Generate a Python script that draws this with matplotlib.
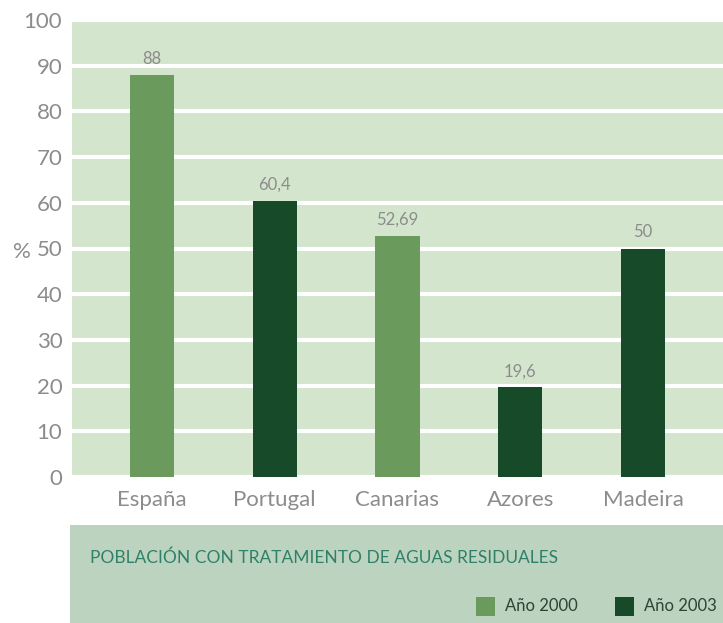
import matplotlib
matplotlib.use("Agg")
import matplotlib.pyplot as plt
from matplotlib.patches import Rectangle

regions = ["España", "Portugal", "Canarias", "Azores", "Madeira"]
values = [88, 60.4, 52.69, 19.6, 50]
value_labels = ["88", "60,4", "52,69", "19,6", "50"]
years = ["Año 2000", "Año 2003", "Año 2000", "Año 2003", "Año 2003"]
legend_years = ["Año 2000", "Año 2003"]

year_colors = {"Año 2000": "#6a9a5c", "Año 2003": "#174a28"}
grey = "#8c8c8c"
plt.rcParams["font.family"] = ["Lato", "DejaVu Sans"]

W, H = 723, 623
fig = plt.figure(figsize=(W / 100, H / 100), dpi=100)
fig.patch.set_facecolor("white")

ax = fig.add_axes([72 / W, (H - 477) / H, (W - 72) / W, 457 / H])
ax.set_facecolor("#d3e5cc")

x = list(range(len(regions)))
ax.bar(x, values, width=0.36, color=[year_colors[y] for y in years], zorder=3)
for xi, v, lab in zip(x, values, value_labels):
    ax.text(xi, v + 1.8, lab, ha="center", va="bottom", fontsize=12,
            color=grey)

ax.set_ylim(0, 100)
ax.set_xlim(-0.65, 4.65)
ax.set_yticks(range(0, 101, 10))
ax.yaxis.grid(True, color="white", linewidth=3)
ax.set_axisbelow(True)
for s in ax.spines.values():
    s.set_visible(False)
ax.tick_params(axis="both", length=0, labelsize=16, labelcolor=grey)
ax.tick_params(axis="y", pad=7)
ax.tick_params(axis="x", pad=9)
ax.set_xticks(x)
ax.set_xticklabels(regions)
fig.text(22 / W, (H - 252) / H, "%", fontsize=16, color=grey,
         ha="center", va="center")

# bottom caption panel
fig.patches.append(Rectangle((70 / W, 0), (W - 70) / W, 98 / H,
                             transform=fig.transFigure, facecolor="#bcd4bf",
                             edgecolor="none", zorder=0))
fig.text(90 / W, (H - 558) / H, "POBLACIÓN CON TRATAMIENTO DE AGUAS RESIDUALES",
         fontsize=12.5, color="#2f8068", va="center", ha="left")

legend_x = [476, 615]
for lx, yr in zip(legend_x, legend_years):
    fig.patches.append(Rectangle((lx / W, (H - 616) / H), 19 / W, 19 / H,
                                 transform=fig.transFigure,
                                 facecolor=year_colors[yr], edgecolor="none"))
    fig.text((lx + 29) / W, (H - 606) / H, yr, fontsize=12,
             color="#2a4535", va="center", ha="left")

fig.savefig("out.png", dpi=100, facecolor=fig.get_facecolor())
